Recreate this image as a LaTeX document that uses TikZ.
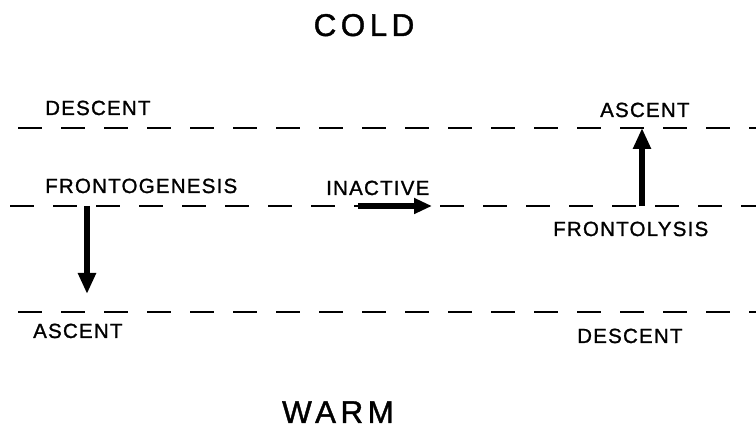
\documentclass[tikz,border=0pt]{standalone}
\usepackage{fontspec}
\usetikzlibrary{arrows.meta}
\newfontfamily\lblfont[LetterSpace=6,FakeBold=1.2]{Liberation Sans}
\newfontfamily\titlefont[LetterSpace=14,FakeBold=1.2]{Liberation Sans}
\begin{document}
\begin{tikzpicture}[x=1pt,y=-1pt,
  lbl/.style={inner sep=0pt,anchor=base west,font=\lblfont\fontsize{20.5}{24}\selectfont},
  ttl/.style={inner sep=0pt,anchor=base,font=\titlefont\fontsize{31.5}{36}\selectfont},
  front/.style={line width=2.6pt,dash pattern=on 24pt off 19pt},
  motion/.style={line width=#1,-{Triangle[length=21pt,width=17pt]}},
  motion/.default=6pt]
\useasboundingbox (0,0) rectangle (756,430);
% level lines
\coordinate (t1) at (18,128);  \coordinate (t2) at (756,128);
\coordinate (m1) at (10,206);  \coordinate (m2) at (756,206);
\coordinate (b1) at (18,312);  \coordinate (b2) at (756,312);
\draw[front] (t1) -- (t2);
\draw[front] (m1) -- (m2);
\draw[front] (b1) -- (b2);
% labels
\node[ttl] (cold) at (364,36) {COLD};
\node[ttl] (warm) at (338,423) {WARM};
\node[lbl] (desc1) at (45,115) {DESCENT};
\node[lbl] (fgen) at (45,193) {FRONTOGENESIS};
\node[lbl] (inact) at (326,195) {INACTIVE};
\node[lbl] (asc1) at (600,117) {ASCENT};
\node[lbl] (flys) at (553,236) {FRONTOLYSIS};
\node[lbl] (asc2) at (33,338) {ASCENT};
\node[lbl] (desc2) at (577,343) {DESCENT};
% arrows
\coordinate (d1) at (87,206); \coordinate (d2) at (87,294);
\coordinate (h1) at (358,206); \coordinate (h2) at (432,206);
\coordinate (u1) at (642,206); \coordinate (u2) at (642,128);
\draw[motion=6.5pt] (d1) -- (d2);
\draw[line width=5.5pt,-{Triangle[length=18pt,width=15pt]}] (h1) -- (h2);
\draw[motion=5.5pt] (u1) -- (u2);
\end{tikzpicture}
\end{document}
